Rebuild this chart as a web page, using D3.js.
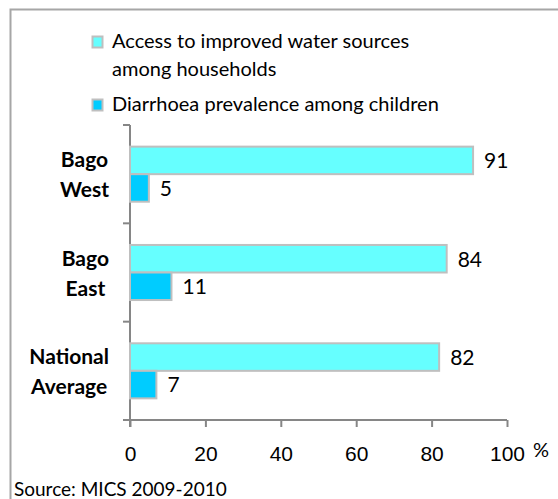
<!DOCTYPE html>
<html><head><meta charset="utf-8">
<script src="https://cdn.jsdelivr.net/npm/d3@7"></script>
<style>
html,body{margin:0;padding:0;background:#fff;}
svg{display:block;font-family:Lato, "Open Sans", sans-serif;}
</style></head>
<body>
<svg id="c" width="558" height="499"></svg>
<script>
const categories = [["Bago","West"],["Bago","East"],["National","Average"]];
const categoryKeys = ["Bago West","Bago East","National Average"];
const waterAccess = [91, 84, 82];
const diarrhoea = [5, 11, 7];
const xTicks = [0, 20, 40, 60, 80, 100];
const seriesNames = [["Access to improved water sources","among households"],["Diarrhoea prevalence among children"]];
const seriesColors = ["#66ffff", "#00ccff"];

const svg = d3.select("#c");
// outer frame (top and left visible)
svg.append("path").attr("d","M10.5,600 V9.5 H600").attr("fill","none").attr("stroke","#a6a6a6").attr("stroke-width",2);

const x = d3.scaleLinear().domain([0,100]).range([130,507]);
const y = d3.scaleBand().domain(categoryKeys).range([125,420]).padding(0);
const bh = y.bandwidth()*0.28;

// axes
const ax = svg.append("g").attr("transform","translate(0,420)")
  .call(d3.axisBottom(x).tickValues(xTicks).tickSize(7).tickFormat(d3.format("d")));
ax.select(".domain").attr("stroke","#868686").attr("stroke-width",2).attr("d","M130,0H507");
ax.selectAll(".tick line").attr("stroke","#868686").attr("stroke-width",2);
ax.selectAll(".tick text").attr("font-size",21).attr("fill","#000").attr("y",41).attr("dy",0);

const ay = svg.append("g").attr("transform","translate(130,0)");
ay.append("line").attr("x1",0).attr("x2",0).attr("y1",y.range()[0]).attr("y2",y.range()[1]+7).attr("stroke","#868686").attr("stroke-width",2);
const edges = categoryKeys.map(k=>y(k)).concat([y.range()[1]]);
ay.selectAll("line.t").data(edges).enter().append("line").attr("class","t")
  .attr("x1",-7).attr("x2",0).attr("y1",d=>d).attr("y2",d=>d).attr("stroke","#868686").attr("stroke-width",2);

// bars
const g = svg.append("g");
categoryKeys.forEach((k,i)=>{
  const c = y(k)+y.bandwidth()/2;
  const vals=[waterAccess[i], diarrhoea[i]];
  vals.forEach((v,j)=>{
    const top = c - bh + j*bh;
    g.append("rect").attr("x",x(0)).attr("y",top).attr("width",x(v)-x(0)).attr("height",bh)
      .attr("fill",seriesColors[j]).attr("stroke","#bfbfbf").attr("stroke-width",2);
    g.append("text").attr("x",x(v)+11).attr("y",top+bh/2+0.5).attr("dy","0.35em")
      .attr("font-size",21).text(v);
  });
  const t = g.append("text").attr("text-anchor","middle").attr("font-size",21).attr("font-weight","bold");
  const spans = categories[i].map((ln,m)=>t.append("tspan").attr("y",c-7+m*30).text(ln));
  const maxW = d3.max(spans, s=>s.node().getComputedTextLength());
  spans.forEach(s=>s.attr("x",109 - maxW/2));
});

// legend
const lg = svg.append("g");
const legY = [[48,76],[111]];
seriesNames.forEach((lines,j)=>{
  lg.append("rect").attr("x",92.5).attr("y",legY[j][0]-11.5).attr("width",10).attr("height",11)
    .attr("fill",seriesColors[j]).attr("stroke","#bfbfbf").attr("stroke-width",2);
  lines.forEach((ln,m)=>{
    lg.append("text").attr("x",112).attr("y",legY[j][m]).attr("font-size",20).text(ln);
  });
});

svg.append("text").attr("x",533).attr("y",457).attr("font-size",20).text("%");
svg.append("text").attr("x",14).attr("y",496).attr("font-size",19).text("Source: MICS 2009-2010");
</script>
</body></html>
